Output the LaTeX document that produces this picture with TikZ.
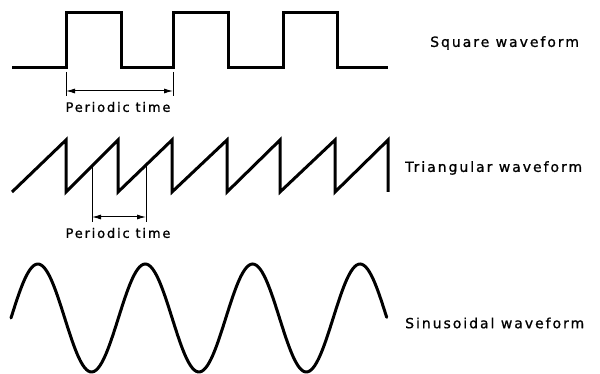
\documentclass[tikz,border=0pt]{standalone}
\usepackage{fontspec}
\newfontfamily\wavefont{DejaVu Sans}[LetterSpace=14, FakeBold=1]
\usepackage{tikz}
\usetikzlibrary{arrows.meta}

\begin{document}
\begin{tikzpicture}[x=1pt, y=-1pt,
  wave/.style={line width=3pt, line join=miter},
  ext/.style={line width=0.9pt},
  dim/.style={{Latex[length=9pt,width=5pt]}-{Latex[length=9pt,width=5pt]}, line width=1pt},
  lbl/.style={font=\wavefont\fontsize{14}{16}\selectfont, anchor=west, inner sep=0pt},
  ptime/.style={font=\wavefont\fontsize{13}{15}\selectfont, inner sep=0pt}
]
\useasboundingbox (0,0) rectangle (600,374);

% Square waveform
\draw[wave] (12,68) -- (66,68) -- (66,13) -- (121,13) -- (121,68) -- (173,68)
  -- (173,13) -- (228,13) -- (228,68) -- (283,68) -- (283,13) -- (337,13)
  -- (337,68) -- (388,68);
\node[lbl] (sqlbl) at (430,43) {Square waveform};

% its periodic time
\coordinate (sqa) at (66,91);
\coordinate (sqb) at (173,91);
\draw[ext] (66,72) -- (66,96);
\draw[ext] (173,72) -- (173,96);
\draw[dim] (sqa) -- (sqb);
\node[ptime] (sqtime) at (118,107) {Periodic time};

% Triangular waveform
\draw[wave] (12,192) foreach \x in {66,118,172,227,280,335,388} { -- (\x,140) -- (\x,192) };
\node[lbl] (trlbl) at (405,168) {Triangular waveform};

% its periodic time
\coordinate (tra) at (92,217);
\coordinate (trb) at (146,217);
\draw[ext] (92,166) -- (92,222);
\draw[ext] (146,165) -- (146,222);
\draw[dim] (tra) -- (trb);
\node[ptime] (trtime) at (118,233) {Periodic time};

% Sinusoidal waveform
\draw[wave, line cap=round, domain=0:3.5, samples=200, smooth]
  plot ({11+107.4*\x}, {318-54*sin(360*\x)});
\node[lbl] (snlbl) at (405,323) {Sinusoidal waveform};

\end{tikzpicture}
\end{document}
